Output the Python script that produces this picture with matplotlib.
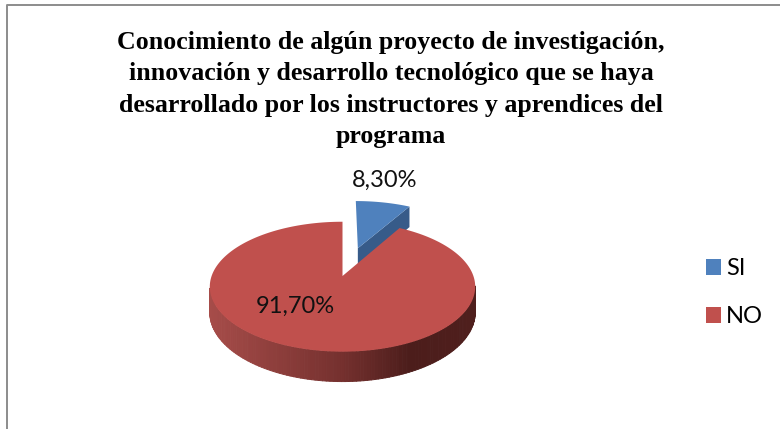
import numpy as np
import matplotlib
matplotlib.use('Agg')
import matplotlib.pyplot as plt
from matplotlib.collections import PolyCollection
from matplotlib.patches import Patch
from matplotlib.colors import LinearSegmentedColormap

# data
categories = ['SI', 'NO']
values = [8.30, 91.70]
value_labels = ['8,30%', '91,70%']
title = ('Conocimiento de algún proyecto de investigación,\n'
         'innovación y desarrollo tecnológico que se haya\n'
         'desarrollado por los instructores y aprendices del\n'
         'programa')
colors = ['#4F81BD', '#C0504D']

# perspective of the 3d pie, in pixels
CX, CY = 342.5, 276.0
A, B, K = 130.9, 63.2, 0.1646
DEPTH = 25.0


def project(u, v, drop=0.0):
    w = 1 + K * v
    return CX + A * u / w, CY - B * v / w + drop * DEPTH / w


def wedge_outline(w, drop=0.0):
    t = np.radians(np.linspace(w.theta1, w.theta2, 200))
    u = w.center[0] + np.cos(t)
    v = w.center[1] + np.sin(t)
    u = np.r_[w.center[0], u]
    v = np.r_[w.center[1], v]
    x, y = project(u, v, drop)
    return np.column_stack([x, y])


fig = plt.figure(figsize=(7.8, 4.29), dpi=100)
ax = fig.add_axes([0, 0, 1, 1])

wedges, _ = ax.pie(values, explode=[0.49, 0], startangle=90, counterclock=False)
si, no = wedges
for w in wedges:
    w.set_visible(False)

ax.set_aspect('auto')
ax.set_xlim(0, 780)
ax.set_ylim(429, 0)
ax.axis('off')

# blue cut face, then top
a0 = np.radians(si.theta1)
ux = si.center[0] + np.cos(a0)
vx = si.center[1] + np.sin(a0)
u0, v0 = si.center
p = [project(u0, v0), project(ux, vx), project(ux, vx, 1), project(u0, v0, 1)]
ax.fill([q[0] for q in p], [q[1] for q in p], color='#375B89', lw=0, zorder=1)
ax.fill(*wedge_outline(si).T, color=colors[0], lw=0, zorder=2)

# red outer wall with gradient
wall = LinearSegmentedColormap.from_list(
    'wall', [(0, '#A64C49'), (0.5, '#74302E'), (0.75, '#4C1D1B'), (1, '#4F1F1D')])
t = np.radians(np.linspace(no.theta1, no.theta2, 240))
u = no.center[0] + np.cos(t)
v = no.center[1] + np.sin(t)
x1, y1 = project(u, v)
x2, y2 = project(u, v, 1)
quads = []
cols = []
for i in range(len(t) - 1):
    # only the front part of the rim shows
    if v[i] > -K:
        continue
    quads.append([(x1[i], y1[i]), (x1[i+1], y1[i+1]), (x2[i+1], y2[i+1]), (x2[i], y2[i])])
    cols.append(wall((x1[i] - x1.min()) / (x1.max() - x1.min())))
ax.add_collection(PolyCollection(quads, facecolors=cols, edgecolors=cols, linewidths=0.7, zorder=3))
ax.fill(*wedge_outline(no).T, color=colors[1], lw=0, zorder=4)

# labels
ax.text(385, 180, value_labels[0], fontsize=17, family='Lato', ha='center', va='center', color='#111111', zorder=6)
ax.text(295, 306, value_labels[1], fontsize=17, family='Lato', ha='center', va='center', color='#111111', zorder=6)

# title
ax.text(391, 89.5, title, fontsize=18.6, family='Liberation Serif', weight='bold', ha='center', va='center',
        linespacing=1.45, color='black')

# legend
handles = [Patch(color=c, lw=0) for c in colors]
ax.legend(handles, categories, loc='upper left', bbox_to_anchor=(706 / 780, 1 - 258 / 429), frameon=False,
          prop={'family': 'Lato', 'size': 17}, handlelength=0.64, handleheight=0.64,
          handletextpad=0.2, labelspacing=1.16, borderpad=0, borderaxespad=0)

# frame
ax.plot([7, 7, 780], [429, 4.5, 4.5], color='#8C8C8C', lw=1.4, clip_on=False)

fig.savefig('out.png', dpi=100)
